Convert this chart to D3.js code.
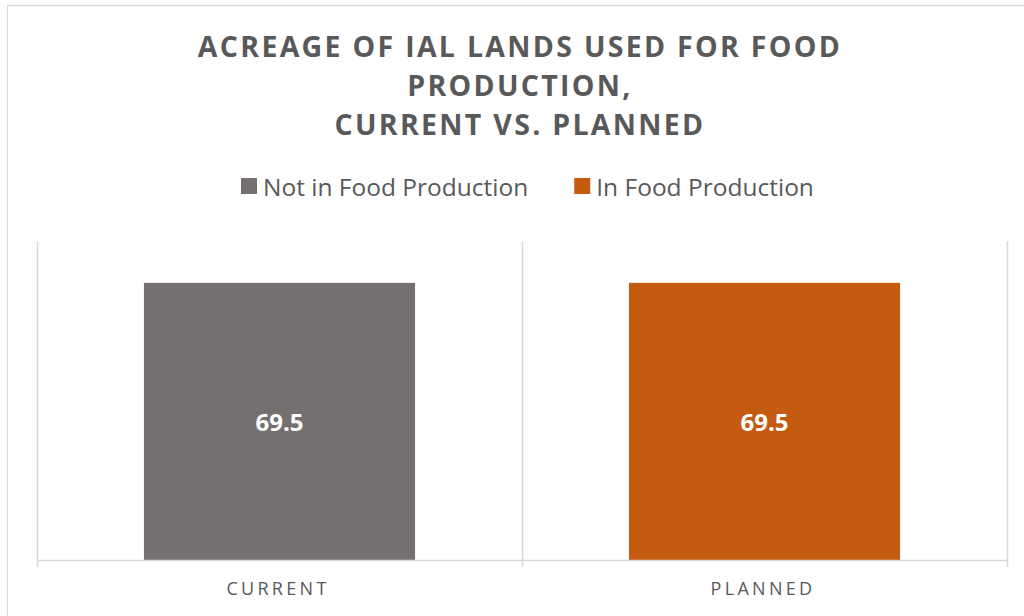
<!DOCTYPE html>
<html>
<head>
<meta charset="utf-8">
<script src="https://cdn.jsdelivr.net/npm/d3@7"></script>
<style>
  html, body { margin: 0; padding: 0; background: #fff; }
  svg { display: block; font-family: "Open Sans", "Noto Sans", sans-serif; }
</style>
</head>
<body>
<svg id="chart" width="1024" height="616"></svg>
<script>
const categories = ["CURRENT", "PLANNED"];
const seriesNames = ["Not in Food Production", "In Food Production"];
const notInFoodProduction = [69.5, 0];
const inFoodProduction = [0, 69.5];
const titleLines = ["ACREAGE OF IAL LANDS USED FOR FOOD", "PRODUCTION,", "CURRENT VS. PLANNED"];
const yDomain = [0, 80];

const colors = ["#757070", "#C55A11"];
const gridColor = "#d9d9d9";
const textColor = "#595959";

const svg = d3.select("#chart");
const plot = { left: 37, right: 1007, top: 241, bottom: 560 };

// chart border
svg.append("rect").attr("x", 7.5).attr("y", 5.5).attr("width", 1040).attr("height", 640)
  .attr("fill", "#fff").attr("stroke", gridColor).attr("stroke-width", 1.2);

// title
const title = svg.append("text").attr("text-anchor", "middle")
  .attr("fill", textColor).attr("font-weight", 700).attr("font-size", 28.5)
  .attr("letter-spacing", "2.3px");
titleLines.forEach((t, i) => {
  title.append("tspan").attr("x", 520).attr("y", 57 + i * 39).text(t);
});

// data
const rows = categories.map((c, i) => ({ cat: c, [seriesNames[0]]: notInFoodProduction[i], [seriesNames[1]]: inFoodProduction[i] }));
const stacked = d3.stack().keys(seriesNames)(rows);

const x = d3.scaleBand().domain(categories).range([plot.left, plot.right])
  .paddingInner(0.441).paddingOuter(0.2205);
const y = d3.scaleLinear().domain(yDomain).range([plot.bottom, plot.top]);

// vertical gridlines at category boundaries
const step = x.step();
const bounds = [plot.left, plot.left + step, plot.right];
svg.append("g").selectAll("line").data(bounds).join("line")
  .attr("x1", d => d + 0.5).attr("x2", d => d + 0.5)
  .attr("y1", plot.top).attr("y2", plot.bottom + 7)
  .attr("stroke", gridColor).attr("stroke-width", 1.5);

// bars
const layers = svg.append("g").selectAll("g").data(stacked).join("g")
  .attr("fill", (d, i) => colors[i]);
layers.selectAll("rect").data(d => d.filter(p => p[1] - p[0] > 0)).join("rect")
  .attr("x", d => x(d.data.cat))
  .attr("width", x.bandwidth())
  .attr("y", d => y(d[1]))
  .attr("height", d => y(d[0]) - y(d[1]));

// value labels
layers.selectAll("text").data(d => d.filter(p => p[1] - p[0] > 0)).join("text")
  .attr("x", d => x(d.data.cat) + x.bandwidth() / 2)
  .attr("y", d => (y(d[0]) + y(d[1])) / 2 + 9.5)
  .attr("text-anchor", "middle").attr("fill", "#fff")
  .attr("font-weight", 700).attr("font-size", 24)
  .text(d => d3.format(".1f")(d[1] - d[0]));

// x axis baseline
const xAxis = svg.append("g").attr("transform", `translate(0,${plot.bottom + 0.5})`)
  .call(d3.axisBottom(x).tickSize(0).tickPadding(0));
xAxis.select(".domain").attr("stroke", gridColor).attr("stroke-width", 1.5)
  .attr("d", `M${plot.left},0H${plot.right + 1}`);
xAxis.selectAll(".tick text").attr("font-family", "'Open Sans', sans-serif")
  .attr("font-size", 18).attr("fill", textColor).attr("letter-spacing", "3.3px")
  .attr("dy", 0).attr("y", 34).attr("dx", "-1.5px");

// legend
const legend = svg.append("g");
const items = legend.selectAll("g").data(seriesNames).join("g");
items.append("rect").attr("width", 16).attr("height", 16).attr("y", 178)
  .attr("fill", (d, i) => colors[i]);
items.append("text").attr("x", 22).attr("y", 196).attr("font-size", 24.5)
  .attr("fill", textColor).text(d => d);
let cx = 241;
items.each(function() {
  const g = d3.select(this);
  g.attr("transform", `translate(${cx},0)`);
  const w = g.select("text").node().getComputedTextLength();
  cx += 22 + w + 46;
});
</script>
</body>
</html>
